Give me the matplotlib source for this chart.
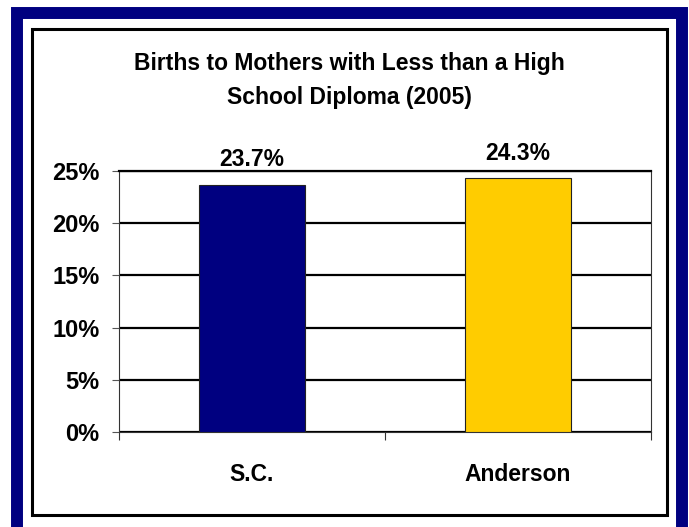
import matplotlib as mpl
mpl.use("Agg")
import matplotlib.pyplot as plt
from matplotlib.patches import Rectangle

W, H = 689, 527

categories = ["S.C.", "Anderson"]
values = [23.7, 24.3]
bar_colors = ["#000080", "#FFCC00"]
y_ticks = [0, 5, 10, 15, 20, 25]
title = "Births to Mothers with Less than a High\nSchool Diploma (2005)"


def px_rect(x0, y0, x1, y1, **kw):
    # pixel box (top-left origin) -> figure-fraction rectangle
    return Rectangle((x0 / W, 1 - y1 / H), (x1 - x0) / W, (y1 - y0) / H,
                     transform=fig.transFigure, **kw)


mpl.rcParams.update({
    "font.family": ["Liberation Sans", "DejaVu Sans"],
    "font.weight": "bold",
})

fig = plt.figure(figsize=(W / 100, H / 100), dpi=100)
fig.patch.set_facecolor("white")

# outer navy frame and inner black frame
fig.add_artist(px_rect(17, 13, 681.5, 529, fill=False, edgecolor="#000080", linewidth=8.6))
fig.add_artist(px_rect(31.5, 28.5, 667, 514.5, fill=False, edgecolor="black", linewidth=2.2))

ax = fig.add_axes([119 / W, 1 - 432 / H, (651 - 119) / W, (432 - 171) / H])
x = list(range(len(categories)))
bars = ax.bar(x, values, width=0.4, color=bar_colors, edgecolor="#222222", linewidth=0.8, zorder=3)

ax.set_xlim(-0.5, len(categories) - 0.5)
ax.set_ylim(0, 25)
ax.set_yticks(y_ticks)
ax.set_yticklabels([f"{v}%" for v in y_ticks], fontsize=17, fontweight="bold")
ax.yaxis.grid(True, color="black", linewidth=1.6, zorder=1)
ax.set_axisbelow(True)

ax.set_xticks(x)
ax.set_xticklabels(categories, fontsize=16.5, fontweight="bold")
ax.set_xticks([i - 0.5 for i in range(len(categories) + 1)], minor=True)
ax.tick_params(axis="x", which="major", length=0, pad=22)
ax.tick_params(axis="x", which="minor", length=6, width=0.8, color="#333333", direction="out")
ax.tick_params(axis="y", length=5, width=0.8, color="#555555", pad=9)

for side in ["left", "right", "bottom"]:
    ax.spines[side].set_color("#333333")
    ax.spines[side].set_linewidth(0.8)
ax.spines["top"].set_color("black")
ax.spines["top"].set_linewidth(1.6)

for b, v in zip(bars, values):
    ax.annotate(f"{v}%", (b.get_x() + b.get_width() / 2, v), xytext=(0, 13.5),
                textcoords="offset points", ha="center", va="baseline",
                fontsize=16.5, fontweight="bold")

fig.text(349 / W, 1 - 52 / H, title, ha="center", va="top", fontsize=16.5,
         fontweight="bold", linespacing=1.6)

fig.savefig("out.png", dpi=100)
